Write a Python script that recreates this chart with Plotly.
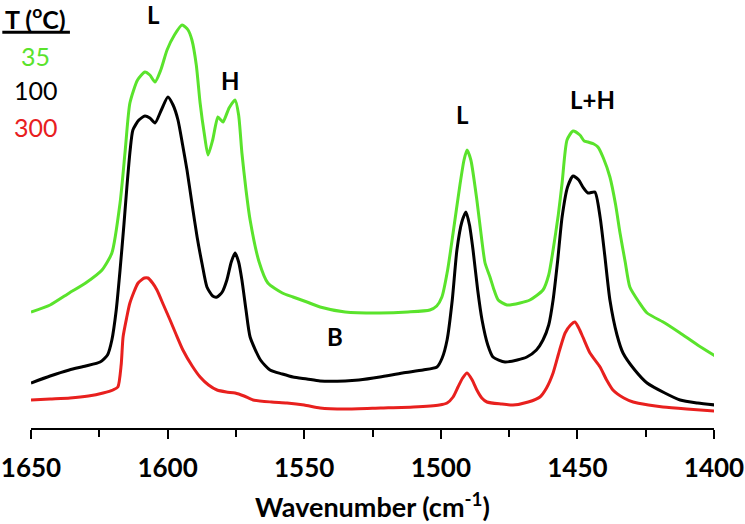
import plotly.graph_objects as go

# ---- data ----
wn_35 = [1650, 1643, 1636, 1630, 1624, 1620.4, 1617.4, 1615.5, 1613.8, 1611,
         1608.3, 1606.5, 1604.6, 1602.5, 1600.2, 1597.5, 1594.7, 1592.5, 1591.1, 1589.5,
         1588.1, 1586.5, 1585.2, 1583.5, 1581.6, 1580.5, 1579.7, 1577.5, 1575.3, 1574,
         1572.8, 1571.3, 1569.8, 1566.5, 1563.3, 1558, 1554.1, 1549, 1544.2, 1535,
         1522.3, 1512, 1504, 1501.5, 1499.6, 1497.5, 1495.5, 1493, 1491.5, 1490.4,
         1489, 1486.8, 1485, 1483.8, 1482, 1480.5, 1479, 1475.8, 1471, 1467.4,
         1462.6, 1460.5, 1458.9, 1457, 1455.6, 1453.8, 1451.6, 1449.1, 1447.5, 1446.1,
         1444, 1442.5, 1440.5, 1438.1, 1436, 1434.4, 1432.5, 1430.8, 1427.5, 1424.5,
         1418, 1412.4, 1406, 1399.6]
abs_35 = [1.16, 1.23, 1.35, 1.45, 1.58, 1.75, 2.25, 2.78, 3.25, 3.48,
          3.56, 3.53, 3.46, 3.58, 3.78, 3.93, 4.03, 3.98, 3.88, 3.63,
          3.25, 2.93, 2.73, 2.88, 3.11, 3.08, 3.06, 3.20, 3.28, 3.13,
          2.75, 2.38, 2.08, 1.66, 1.45, 1.35, 1.31, 1.26, 1.21, 1.16,
          1.15, 1.16, 1.18, 1.22, 1.31, 1.58, 1.95, 2.43, 2.68, 2.78,
          2.68, 2.28, 1.88, 1.65, 1.51, 1.38, 1.28, 1.23, 1.25, 1.28,
          1.38, 1.53, 1.78, 2.13, 2.45, 2.88, 2.97, 2.93, 2.87, 2.86,
          2.84, 2.81, 2.70, 2.51, 2.23, 1.95, 1.66, 1.41, 1.26, 1.15,
          1.05, 0.95, 0.83, 0.72]

wn_100 = [1650, 1643, 1636, 1630, 1624.7, 1622, 1620.4, 1618.8, 1617.4, 1616,
          1614.9, 1613.7, 1612.7, 1610.5, 1608.3, 1606.5, 1604.6, 1602.3, 1599.9, 1598,
          1596.2, 1594.5, 1592.9, 1591, 1589.2, 1587.3, 1585.6, 1583.5, 1581.9, 1580,
          1578.3, 1576.7, 1575.3, 1574, 1572.8, 1571.3, 1569.8, 1566, 1562.5, 1558,
          1554.1, 1549, 1544.2, 1535, 1530, 1522.3, 1514, 1506.5, 1501.4, 1499.5,
          1497.7, 1495.8, 1494.1, 1492.3, 1490.8, 1489.5, 1488.2, 1486.5, 1484.9, 1482.8,
          1480.9, 1476.5, 1472, 1468.5, 1465, 1462.6, 1460.5, 1458.9, 1457.2, 1455.6,
          1453.6, 1451.6, 1449.5, 1448, 1446.1, 1443.6, 1441.7, 1440, 1438.1, 1435.5,
          1433.3, 1429, 1424.5, 1418, 1412.4, 1406, 1399.6]
abs_100 = [0.45, 0.52, 0.58, 0.62, 0.66, 0.73, 0.88, 1.18, 1.58, 2.03,
           2.41, 2.78, 2.98, 3.08, 3.12, 3.10, 3.05, 3.18, 3.31, 3.23,
           3.08, 2.83, 2.58, 2.23, 1.91, 1.63, 1.41, 1.32, 1.31, 1.36,
           1.48, 1.66, 1.75, 1.66, 1.48, 1.18, 0.91, 0.68, 0.58, 0.54,
           0.51, 0.49, 0.47, 0.47, 0.48, 0.51, 0.55, 0.58, 0.61, 0.70,
           0.88, 1.28, 1.78, 2.06, 2.16, 2.03, 1.78, 1.38, 1.08, 0.83,
           0.71, 0.66, 0.68, 0.71, 0.78, 0.88, 1.03, 1.28, 1.68, 2.11,
           2.41, 2.52, 2.48, 2.41, 2.35, 2.36, 2.11, 1.73, 1.28, 0.93,
           0.75, 0.58, 0.45, 0.35, 0.28, 0.25, 0.23]

wn_300 = [1650, 1643, 1635.7, 1629, 1623.6, 1620, 1618.2, 1617, 1616.3, 1615,
          1613.8, 1610.8, 1608.5, 1607.2, 1605.5, 1603.9, 1601.5, 1599.1, 1596.8, 1594.4,
          1591, 1588.1, 1585, 1581.9, 1578.5, 1575.3, 1572, 1568.7, 1562, 1556.3,
          1550, 1544.2, 1535, 1522, 1510, 1500.5, 1497.7, 1495.5, 1493.7, 1492,
          1490.4, 1488.5, 1486.8, 1485, 1483.1, 1478, 1473.6, 1468, 1463.7, 1461.3,
          1458.9, 1456.5, 1454.5, 1452.5, 1450.9, 1449.5, 1448, 1445.4, 1441.7, 1439.3,
          1437, 1433, 1429.6, 1424, 1418.7, 1410, 1399.6]
abs_300 = [0.28, 0.29, 0.30, 0.32, 0.35, 0.38, 0.41, 0.63, 0.91, 1.10,
           1.25, 1.45, 1.50, 1.50, 1.45, 1.38, 1.23, 1.08, 0.93, 0.78,
           0.62, 0.51, 0.43, 0.38, 0.36, 0.35, 0.32, 0.28, 0.26, 0.25,
           0.23, 0.20, 0.19, 0.20, 0.21, 0.23, 0.25, 0.31, 0.41, 0.50,
           0.55, 0.48, 0.38, 0.30, 0.26, 0.24, 0.23, 0.26, 0.31, 0.40,
           0.55, 0.78, 0.95, 1.03, 1.06, 1.00, 0.91, 0.75, 0.61, 0.48,
           0.38, 0.30, 0.26, 0.23, 0.21, 0.19, 0.17]

assert len(wn_35) == len(abs_35)
assert len(wn_100) == len(abs_100)
assert len(wn_300) == len(abs_300)

temps = ["35", "100", "300"]
colors = ["#5ae32c", "#000000", "#e8201e"]

peak_labels = ["L", "H", "L", "L+H", "B"]
peak_wn = [1605.3, 1576.8, 1491.9, 1444.3, 1538.7]
peak_y = [4.14, 3.48, 3.14, 3.29, 0.92]

x_ticks = [1650, 1600, 1550, 1500, 1450, 1400]

FONT = "Lato"

fig = go.Figure()
for wn, ab, col, t in zip([wn_35, wn_100, wn_300], [abs_35, abs_100, abs_300], colors, temps):
    fig.add_trace(go.Scatter(x=wn, y=ab, mode="lines", name=t,
                             line=dict(color=col, width=3, shape="spline", smoothing=0.6),
                             showlegend=False))

for lab, px, py in zip(peak_labels, peak_wn, peak_y):
    fig.add_annotation(x=px, y=py, xref="x", yref="y", text="<b>%s</b>" % lab,
                       xanchor="center", yanchor="middle",
                       showarrow=False, font=dict(family=FONT, size=24, color="black"))

# legend-like text block
fig.add_annotation(x=0.0073, y=0.981, xref="paper", yref="paper",
                   text="<b>T (<sup>o</sup>C)</b>", showarrow=False,
                   xanchor="center", yanchor="middle",
                   font=dict(family=FONT, size=25, color="black"))
fig.add_shape(type="line", xref="paper", yref="paper", x0=-0.042, x1=0.057,
              y0=0.947, y1=0.947, line=dict(color="black", width=3))
for t, col, yy in zip(temps, colors, [0.890, 0.809, 0.720]):
    fig.add_annotation(x=0.0073, y=yy, xref="paper", yref="paper", text=t,
                       xanchor="center", yanchor="middle",
                       showarrow=False, font=dict(family=FONT, size=25, color=col))

fig.update_layout(
    width=745, height=524,
    margin=dict(l=31, r=31, t=10, b=96, autoexpand=False),
    plot_bgcolor="white", paper_bgcolor="white",
    xaxis=dict(range=[1650, 1400], tickvals=x_ticks, ticktext=[str(v) for v in x_ticks],
               automargin=False,
               showgrid=False, zeroline=False, showline=True, linecolor="black", linewidth=2,
               ticks="outside", ticklen=9, tickwidth=2, tickcolor="black",
               ticklabelstandoff=7,
               minor=dict(dtick=25, tick0=1400, ticks="outside", ticklen=7, tickwidth=2, tickcolor="black"),
               tickfont=dict(family=FONT, size=26, color="black", weight="bold"),
               title=dict(text="<b>Wavenumber (cm<sup>-1</sup>)</b>", standoff=16,
                          font=dict(family=FONT, size=27, color="black"))),
    yaxis=dict(range=[0, 4.18], visible=False, automargin=False),
)

fig.write_html("out.html", config={"displayModeBar": False},
               post_script="document.body.style.margin='0';document.body.style.overflow='hidden';")
